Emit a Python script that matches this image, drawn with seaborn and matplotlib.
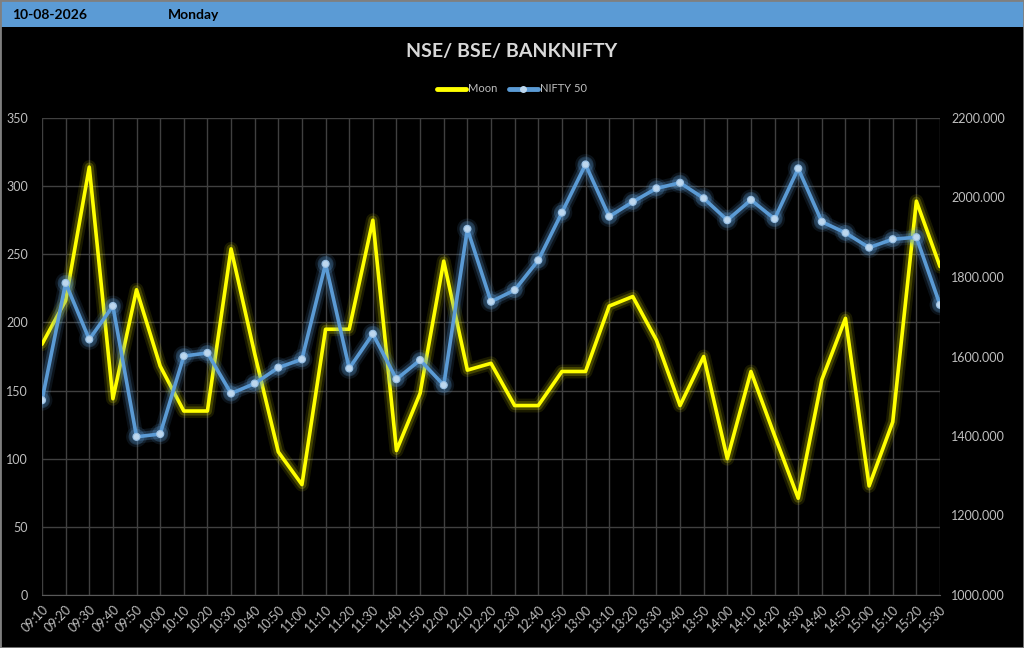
import numpy as np
import pandas as pd
import matplotlib
matplotlib.use("Agg")
import matplotlib.pyplot as plt
import matplotlib.patheffects as pe
from matplotlib.patches import Rectangle
import seaborn as sns

# chart data
times = ['09:10', '09:20', '09:30', '09:40', '09:50', '10:00', '10:10', '10:20',
         '10:30', '10:40', '10:50', '11:00', '11:10', '11:20', '11:30', '11:40',
         '11:50', '12:00', '12:10', '12:20', '12:30', '12:40', '12:50', '13:00',
         '13:10', '13:20', '13:30', '13:40', '13:50', '14:00', '14:10', '14:20',
         '14:30', '14:40', '14:50', '15:00', '15:10', '15:20', '15:30']
moon = [184, 216, 314, 144, 224, 168, 135, 135, 254, 177, 105, 81, 195, 195,
        275, 106, 148, 245, 165, 170, 139, 139, 164, 164, 212, 219, 187, 139,
        175, 100, 164, 117, 71, 158, 203, 80, 127, 289, 241]
nifty = [1490, 1785, 1643, 1727, 1398, 1405, 1601, 1609, 1507, 1532, 1572, 1593,
         1833, 1570, 1657, 1543, 1591, 1528, 1921, 1738, 1767, 1842, 1962, 2083,
         1952, 1989, 2023, 2037, 1998, 1943, 1994, 1946, 2073, 1939, 1911, 1874,
         1895, 1900, 1730]
left_ticks = [0, 50, 100, 150, 200, 250, 300, 350]
right_ticks = [1000, 1200, 1400, 1600, 1800, 2000, 2200]

df = pd.DataFrame({'pos': np.arange(len(times)), 'Moon': moon, 'NIFTY 50': nifty})

YELLOW = '#FFFF00'
BLUE = '#5B9BD5'
TXT = '#BFBFBF'
GRID = '#404040'

sns.set_style("dark")
plt.rcParams['font.family'] = ['Lato', 'DejaVu Sans']

fig = plt.figure(figsize=(10.24, 6.48), dpi=100, facecolor='black')
ax = fig.add_axes([42 / 1024, 1 - 595 / 648, 898 / 1024, 477 / 648])
ax.set_facecolor('black')
ax2 = ax.twinx()

# header bar
fig.patches.append(Rectangle((0, 1 - 27 / 648), 1, 26 / 648, transform=fig.transFigure,
                             facecolor=BLUE, edgecolor='none', zorder=0))
fig.patches.append(Rectangle((0, 0), 1, 1, transform=fig.transFigure, fill=False,
                             edgecolor='#7F7F7F', linewidth=2, zorder=5))
fig.text(12 / 1024, 1 - 15 / 648, '10-08-2026', color='black', fontsize=10,
         fontweight='bold', va='center')
fig.text(168 / 1024, 1 - 15 / 648, 'Monday', color='black', fontsize=10,
         fontweight='bold', va='center')
fig.text(0.5, 1 - 52 / 648, 'NSE/ BSE/ BANKNIFTY', color='#D9D9D9', fontsize=14,
         fontweight='bold', ha='center', va='center')

glow_y = [pe.Stroke(linewidth=10, foreground=YELLOW, alpha=0.1),
          pe.Stroke(linewidth=6.5, foreground=YELLOW, alpha=0.2), pe.Normal()]
glow_b = [pe.Stroke(linewidth=10, foreground=BLUE, alpha=0.12),
          pe.Stroke(linewidth=6.5, foreground=BLUE, alpha=0.25), pe.Normal()]

sns.lineplot(data=df, x='pos', y='Moon', ax=ax, color=YELLOW, linewidth=2.6,
             legend=False, zorder=3)
ax.lines[-1].set_path_effects(glow_y)
sns.lineplot(data=df, x='pos', y='NIFTY 50', ax=ax2, color=BLUE, linewidth=2.6,
             marker='o', markersize=5, markerfacecolor='#BDD7EE',
             markeredgecolor='#9DC3E6', markeredgewidth=0.8, legend=False, zorder=3)
ax2.lines[-1].set_path_effects(glow_b)

ax.set_xlim(0, len(times) - 1)
ax.set_ylim(0, 350)
ax2.set_ylim(1000, 2200)
ax.set_yticks(left_ticks)
ax2.set_yticks(right_ticks)
ax2.set_yticklabels([f'{v}.000' for v in right_ticks])
ax.set_xticks(df['pos'])
ax.set_xticklabels(times, rotation=45, ha='right', rotation_mode='anchor')

ax.grid(True, color=GRID, linewidth=1)
ax2.grid(False)
ax.set_xlabel('')
ax.set_ylabel('')
ax2.set_ylabel('')
for a in (ax, ax2):
    a.tick_params(length=0, labelsize=9, labelcolor=TXT)
    for s in a.spines.values():
        s.set_visible(False)
ax.tick_params(axis='y', pad=10)
ax.tick_params(axis='x', pad=6)
ax2.tick_params(axis='y', pad=8)
ax.spines['bottom'].set_visible(True)
ax.spines['bottom'].set_color('#595959')
ax2.patch.set_visible(False)

# legend
h1 = plt.Line2D([], [], color=YELLOW, linewidth=3.5)
h2 = plt.Line2D([], [], color=BLUE, linewidth=3.5, marker='o', markersize=4,
                markerfacecolor='#BDD7EE', markeredgecolor='#BDD7EE')
leg = fig.legend([h1, h2], ['Moon', 'NIFTY 50'], loc='center',
                 bbox_to_anchor=(0.5, 1 - 89 / 648), ncol=2, frameon=False,
                 fontsize=8, labelcolor=TXT, handlelength=2.6, handletextpad=0.2,
                 columnspacing=1.0)

fig.savefig('out.png', dpi=100, facecolor='black')
